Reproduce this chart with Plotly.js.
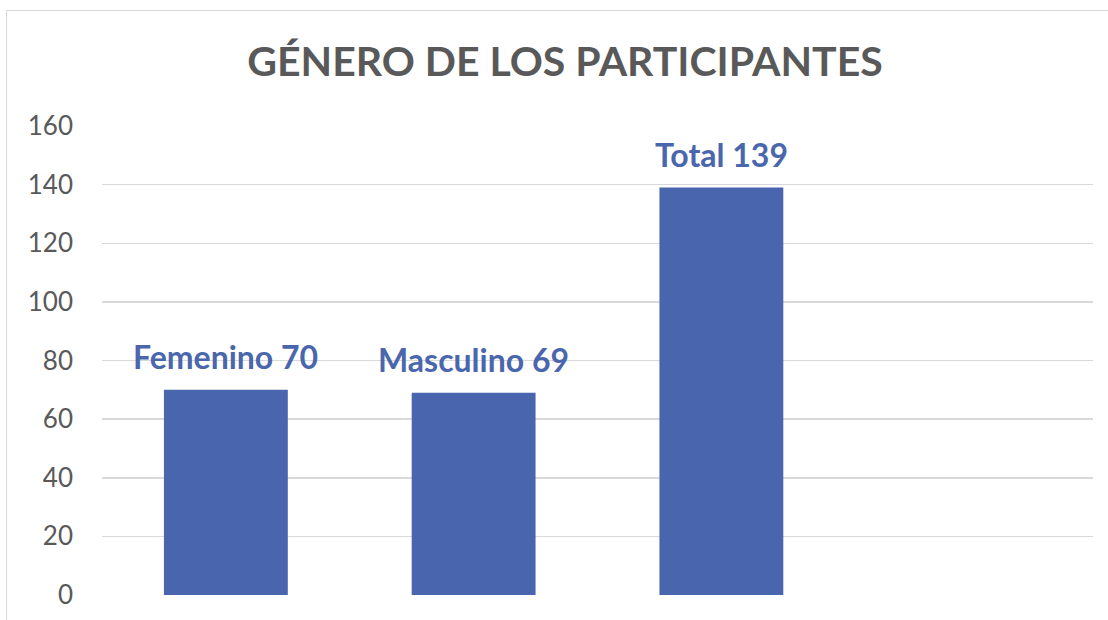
<!DOCTYPE html>
<html>
<head>
<meta charset="utf-8">
<script src="https://cdn.plot.ly/plotly-3.0.1.min.js"></script>
<style>
  body { margin: 0; background: #fff; }
  #chart { width: 1108px; height: 620px; }
  #frame { position: absolute; left: 6px; top: 10px; width: 1110px; height: 620px;
           border: 1.5px solid #d9d9d9; pointer-events: none; }
</style>
</head>
<body>
<div id="chart"></div>
<div id="frame"></div>
<script>
// chart values
const categories = ['Femenino', 'Masculino', 'Total'];
const participants = [70, 69, 139];
const yTicks = [0, 20, 40, 60, 80, 100, 120, 140, 160];

const barColor = '#4965ad';
const labelColor = '#4a66ac';

const trace = {
  type: 'bar',
  x: categories,
  y: participants,
  width: 0.5,
  marker: { color: barColor },
  hoverinfo: 'none'
};

// data labels above each bar
const labels = categories.map((c, i) => ({
  x: c,
  y: participants[i],
  xref: 'x',
  yref: 'y',
  text: '<b>' + c + ' ' + participants[i] + '</b>',
  showarrow: false,
  yanchor: 'middle',
  yshift: 33,
  font: { family: 'Lato, sans-serif', size: 32, color: labelColor }
}));

const layout = {
  width: 1108,
  height: 620,
  margin: { l: 102, r: 15, t: 126, b: 25 },
  paper_bgcolor: '#fff',
  plot_bgcolor: '#fff',
  showlegend: false,
  title: {
    text: '<b>GÉNERO DE LOS PARTICIPANTES</b>',
    x: 565 / 1108,
    xanchor: 'center',
    y: 1 - 62 / 620,
    yanchor: 'middle',
    font: { family: 'Lato, sans-serif', size: 41, color: '#595959' }
  },
  xaxis: {
    type: 'category',
    range: [-0.5, 3.5],
    showticklabels: false,
    showgrid: false,
    zeroline: false,
    showline: false
  },
  yaxis: {
    range: [0, 160],
    tickvals: yTicks,
    showgrid: true,
    gridcolor: '#d9d9d9',
    gridwidth: 1.5,
    zeroline: false,
    showline: false,
    ticklabelstandoff: 28,
    tickfont: { family: 'Lato, sans-serif', size: 26, color: '#595959' }
  },
  annotations: labels
};

Plotly.newPlot('chart', [trace], layout, { displayModeBar: false, staticPlot: true });
</script>
</body>
</html>
